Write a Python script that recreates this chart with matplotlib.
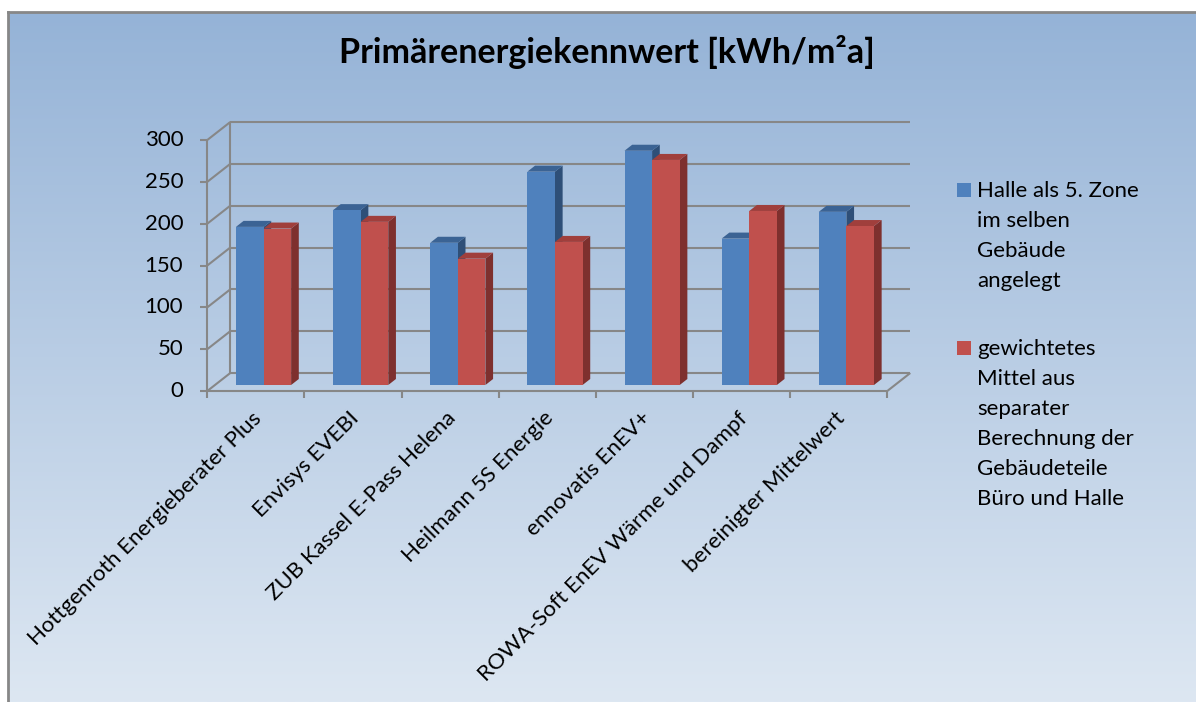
import numpy as np
import matplotlib.pyplot as plt
from matplotlib.patches import Polygon, Rectangle

plt.rcParams['font.family'] = ['Lato', 'DejaVu Sans']

categories = ["Hottgenroth Energieberater Plus", "Envisys EVEBI", "ZUB Kassel E-Pass Helena",
              "Heilmann 5S Energie", "ennovatis EnEV+", "ROWA-Soft EnEV Wärme und Dampf",
              "bereinigter Mittelwert"]
halle_zone = [189, 209, 170, 255, 280, 175, 207]
gewichtet = [187, 195, 151, 171, 269, 208, 190]
series_names = ["Halle als 5. Zone\nim selben\nGebäude\nangelegt",
                "gewichtetes\nMittel aus\nseparater\nBerechnung der\nGebäudeteile\nBüro und Halle"]
yticks = [0, 50, 100, 150, 200, 250, 300]
title = "Primärenergiekennwert [kWh/m²a]"

# front, top, side colours of the 3d columns
colors = [("#4f81bd", "#3b6394", "#2e4f78"),
          ("#c0504d", "#a03f3c", "#7e302e")]
grid_c = "#878787"

W, H = 1196, 702
fig = plt.figure(figsize=(W / 100, H / 100), dpi=100)

# gradient background with grey border top/left
bg = fig.add_axes([8 / W, 0, 1 - 8 / W, (H - 12) / H], zorder=-10)
grad = np.linspace(0, 1, 256).reshape(-1, 1)
top_c = np.array([149, 179, 215]) / 255
bot_c = np.array([221, 231, 242]) / 255
img = top_c + (bot_c - top_c) * grad[:, :, None]
bg.imshow(img, aspect='auto', extent=[0, 1, 0, 1], origin='upper')
bg.set_xticks([])
bg.set_yticks([])
for s in ['right', 'bottom']:
    bg.spines[s].set_visible(False)
for s in ['top', 'left']:
    bg.spines[s].set_color(grid_c)
    bg.spines[s].set_linewidth(2)

# plot area (front plane)
x0p, x1p, y0p, y1p = 207.3, 887.3, 391, 140
ax = fig.add_axes([x0p / W, (H - y0p) / H, (x1p - x0p) / W, (y0p - y1p) / H])
n = len(categories)
ax.set_xlim(0, n)
ax.set_ylim(0, 300)
ax.axis('off')

px_x = (x1p - x0p) / n
px_y = (y0p - y1p) / 300
DX = 23 / px_x
DY = 18 / px_y

lk = dict(color=grid_c, lw=1.5, clip_on=False, solid_capstyle='butt')
# back wall grid and side wall diagonals
for v in yticks:
    ax.plot([DX, n + DX], [v + DY, v + DY], zorder=1, **lk)
    ax.plot([0, DX], [v, v + DY], zorder=1, **lk)
    ax.plot([-7 / px_x, 0], [v, v], zorder=1, **lk)
    ax.text(-24 / px_x, v, str(v), ha='right', va='center', fontsize=16, color='black')
ax.plot([DX, DX], [DY, 300 + DY], zorder=1, **lk)
ax.plot([0, 0], [0, 300], zorder=1, **lk)
# floor
ax.plot([0, n], [0, 0], zorder=30, **lk)
ax.plot([n, n + DX], [0, DY], zorder=1, **lk)
for i in range(n + 1):
    ax.plot([i, i], [0, -7 / px_y], zorder=30, **lk)

# columns
w = 0.284
ddx, ddy = DX / 3, DY / 3
xc = np.arange(n) + 0.5
for k, vals in enumerate([halle_zone, gewichtet]):
    front, topc, side = colors[k]
    xs = xc - w + k * w + ddx
    for i, (x, v) in enumerate(zip(xs, vals)):
        z = 5 + 3 * i + k
        ax.bar(x, v, w, bottom=ddy, align='edge', color=front, zorder=z + 0.2, lw=0)
        t = ddy + v
        ax.add_patch(Polygon([(x, t), (x + w, t), (x + w + ddx, t + ddy), (x + ddx, t + ddy)],
                             closed=True, fc=topc, ec='none', zorder=z + 0.1))
        ax.add_patch(Polygon([(x + w, ddy), (x + w + ddx, 2 * ddy), (x + w + ddx, t + ddy), (x + w, t)],
                             closed=True, fc=side, ec='none', zorder=z))

# category labels
for i, lab in enumerate(categories):
    ax.text(i + 0.5 + 3 / px_x, -24 / px_y, lab, rotation=45, rotation_mode='anchor',
            ha='right', va='center', fontsize=16)

fig.text(607 / W, 1 - 52 / H, title, ha='center', va='center', fontsize=24.5, fontweight='bold')

# legend
leg_y = [181, 339]
for k, (name, yy) in enumerate(zip(series_names, leg_y)):
    fig.patches.append(Rectangle((957 / W, 1 - (yy + 16) / H), 14 / W, 14 / H,
                                 transform=fig.transFigure, fc=colors[k][0], ec='none'))
    fig.text(977 / W, 1 - yy / H, name, ha='left', va='top', fontsize=16, linespacing=1.63)

fig.savefig("out.png", dpi=100)
